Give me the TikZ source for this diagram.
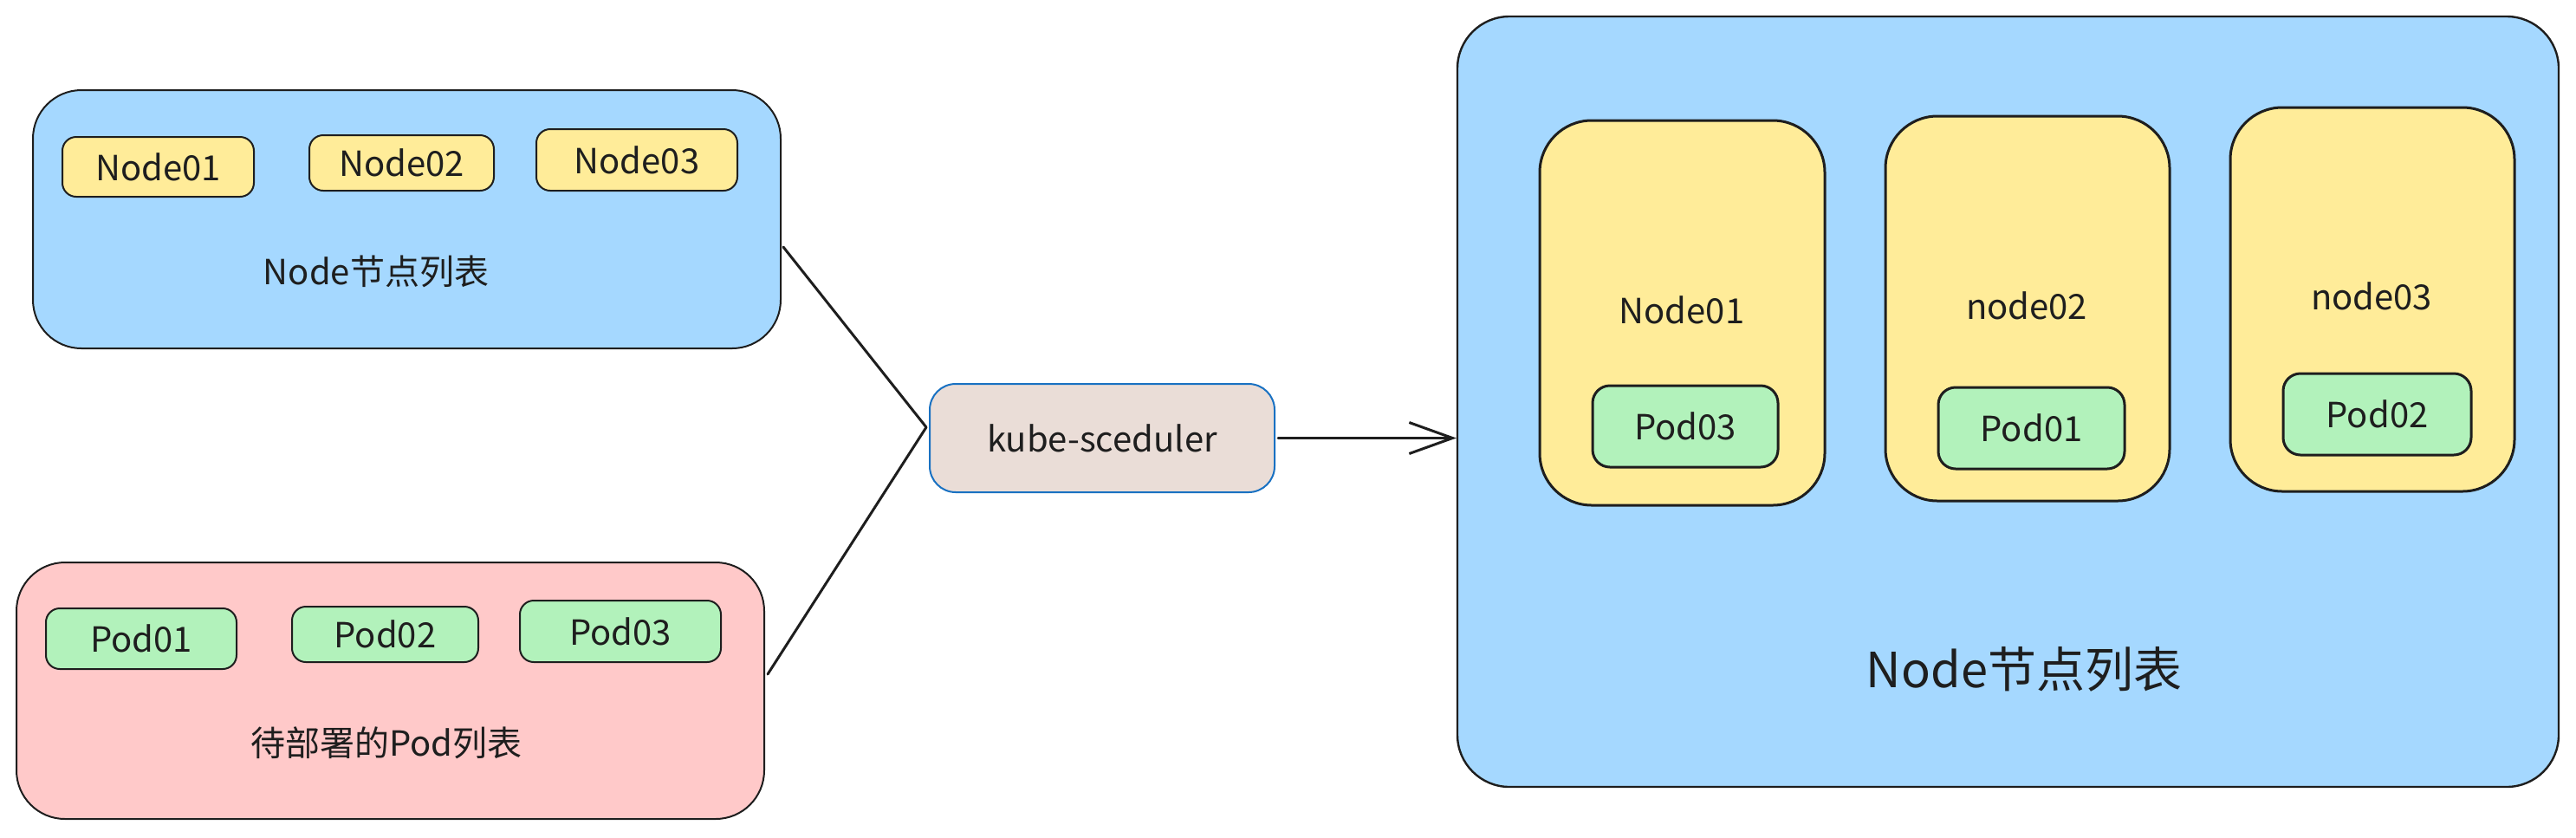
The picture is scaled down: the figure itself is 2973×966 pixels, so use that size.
\documentclass[tikz,border=0pt]{standalone}
\usepackage{fontspec}
\setmainfont{Noto Sans CJK SC}
\usetikzlibrary{fit,arrows.meta}
\definecolor{ink}{HTML}{1E1E1E}
\definecolor{bluef}{HTML}{A5D8FF}
\definecolor{yellowf}{HTML}{FFEC99}
\definecolor{greenf}{HTML}{B2F2BB}
\definecolor{pinkf}{HTML}{FFC9C9}
\definecolor{kubef}{HTML}{EADDD7}
\definecolor{kubes}{HTML}{1971C2}
\begin{document}
\begin{tikzpicture}[x=0.5pt,y=-0.5pt,
  panel/.style={draw=ink, line width=1pt, rounded corners=28pt, inner sep=0pt},
  chip/.style={draw=ink, line width=1pt, fill=yellowf, rounded corners=8pt, inner sep=0pt},
  podchip/.style={draw=ink, line width=1pt, fill=greenf, rounded corners=8pt, inner sep=0pt},
  col/.style={draw=ink, line width=1.5pt, fill=yellowf, rounded corners=30pt, inner sep=0pt},
  podr/.style={draw=ink, line width=1.5pt, fill=greenf, rounded corners=10pt, inner sep=0pt},
  kube/.style={draw=kubes, line width=1pt, fill=kubef, rounded corners=15pt, inner sep=0pt},
  txt/.style={font=\fontsize{20}{24}\selectfont, text=ink, inner sep=0pt},
  bigtxt/.style={font=\fontsize{28}{34}\selectfont, text=ink, inner sep=0pt},
  wire/.style={draw=ink, line width=1.5pt, line join=round, line cap=round}
]
\useasboundingbox (0,0) rectangle (2973,966);

% top-left panel: node list
\node[panel, fill=bluef, fit={(38,104) (901,402)}] (nl) {};
\node[chip, fit={(72,158) (293,227)}] (n1) {};
\node[chip, fit={(357,156) (570,220)}] (n2) {};
\node[chip, fit={(619,149) (851,220)}] (n3) {};
\node[txt] (n1t) at (n1) {Node01};
\node[txt] (n2t) at (n2) {Node02};
\node[txt] (n3t) at (n3) {Node03};
\node[txt] (nll) at (434,313) {Node节点列表};

% bottom-left panel: pods to deploy
\node[panel, fill=pinkf, fit={(19,649) (882,945)}] (pl) {};
\node[podchip, fit={(53,702) (273,772)}] (p1) {};
\node[podchip, fit={(337,700) (552,764)}] (p2) {};
\node[podchip, fit={(600,693) (832,764)}] (p3) {};
\node[txt] (p1t) at (p1) {Pod01};
\node[txt] (p2t) at (p2) {Pod02};
\node[txt] (p3t) at (p3) {Pod03};
\node[txt] (pll) at (446,857) {待部署的Pod列表};

% scheduler
\node[kube, fit={(1073,443) (1471,568)}] (ks) {};
\node[txt] (kst) at (ks) {kube-sceduler};

% right panel
\node[panel, fill=bluef, line width=1.2pt, rounded corners=30pt, fit={(1682,19) (2953,908)}] (big) {};
\node[col, fit={(1777,139) (2106,583)}] (c1) {};
\node[col, fit={(2176,134) (2504,578)}] (c2) {};
\node[col, fit={(2574,124) (2902,567)}] (c3) {};
\node[txt] (c1t) at (1941,358) {Node01};
\node[txt] (c2t) at (2339,353) {node02};
\node[txt] (c3t) at (2737,342) {node03};
\node[podr, fit={(1838,445) (2052,539)}] (r1) {};
\node[podr, fit={(2237,447) (2452,541)}] (r2) {};
\node[podr, fit={(2635,431) (2852,525)}] (r3) {};
\node[txt] (r1t) at (r1) {Pod03};
\node[txt] (r2t) at (r2) {Pod01};
\node[txt] (r3t) at (r3) {Pod02};
\node[bigtxt] (bigl) at (2336,772) {Node节点列表};

% connectors
\coordinate (a1) at (904,285);
\coordinate (a2) at (886,778);
\coordinate (apex) at (1069,493);
\draw[wire] (a1) -- (apex) -- (a2);
\draw[wire, -{Straight Barb[length=25pt,width=18pt,line width=1.5pt]}] ([xshift=1.5pt]ks.east) -- (ks.east -| big.west);
\end{tikzpicture}
\end{document}
